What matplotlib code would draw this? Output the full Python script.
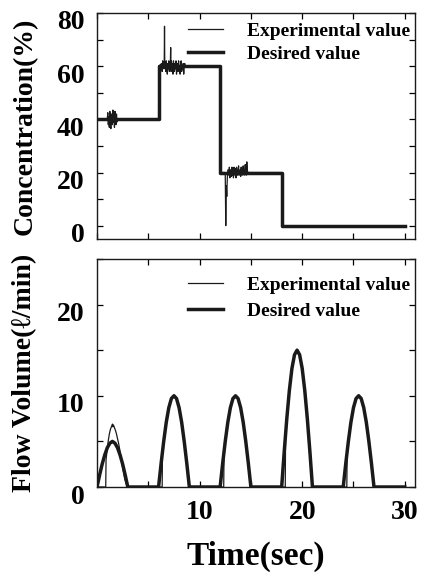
import matplotlib
matplotlib.use('Agg')
import matplotlib.pyplot as plt
from matplotlib.ticker import MultipleLocator
from matplotlib.transforms import ScaledTranslation

plt.rcParams['font.family'] = ['Liberation Serif', 'DejaVu Serif']
plt.rcParams['font.weight'] = 'bold'

# ---- Concentration (%) ----
conc_des_t = [0.0, 6.0, 6.0, 12.0, 12.0, 18.0, 18.0, 30.0]
conc_des_v = [40, 40, 60, 60, 20, 20, 0, 0]

conc_exp_t = [0.0, 1.00, 1.05, 1.10, 1.15, 1.20, 1.25, 1.30, 1.35, 1.40, 1.45, 1.50,
              1.55, 1.60, 1.65, 1.70, 1.75, 1.80, 1.85, 1.90, 1.95, 2.00,
              6.00, 6.02, 6.30, 6.35, 6.40, 6.45, 6.50, 6.55, 6.58, 6.60, 6.62,
              6.65, 6.70, 6.75, 6.80, 6.85, 6.90, 6.95, 7.00, 7.05, 7.10, 7.15,
              7.18, 7.20, 7.22, 7.25, 7.30, 7.35, 7.40, 7.45, 7.50, 7.55, 7.60,
              7.65, 7.70, 7.75, 7.80, 7.85, 7.90, 7.95, 8.00, 8.05, 8.10, 8.15,
              8.20, 8.25, 8.30, 8.35, 8.40, 8.45, 8.50, 8.55, 8.60,
              12.00, 12.02, 12.45, 12.50, 12.55, 12.60, 12.65, 12.70, 12.75,
              12.85, 12.90, 12.95, 13.00, 13.05, 13.10, 13.15, 13.20, 13.25,
              13.30, 13.35, 13.40, 13.45, 13.50, 13.55, 13.60, 13.65, 13.70,
              13.75, 13.80, 13.85, 13.90, 13.95, 14.00, 14.05, 14.10, 14.15,
              14.20, 14.25, 14.30, 14.35, 14.40, 14.45, 14.50, 14.55, 14.60,
              14.65, 14.70, 18.00, 18.02, 30.0]
conc_exp_v = [40, 40, 42.5, 38, 41, 37, 43, 39, 36.5, 42, 40, 38, 43.5, 39, 41,
              37, 43, 40, 38, 42, 39, 40,
              40, 60, 61, 58, 62, 59, 61, 60, 75, 62, 59, 61, 58, 62, 60, 57,
              61, 59, 62, 58, 60, 61, 67, 60, 58, 62, 59, 61, 57, 62, 60, 58,
              61, 59, 62, 57, 60, 61, 58, 62, 59, 60, 57, 61, 62, 58, 60, 59,
              61, 57, 60, 61, 60,
              60, 20, 20, 19, 0, 15, 11, 18, 21, 19, 22, 18, 21, 20, 18.5, 22,
              19, 21, 18, 22, 20, 19, 21.5, 18, 22, 20, 19, 21, 22.5, 19, 20,
              21, 18.5, 22, 20, 19, 21, 22.5, 20, 19, 21, 23, 20, 19, 24, 21,
              20, 20, 0, 0]

# ---- Flow volume (l/min) ----
flow_des_t = [0.0, 0.25, 0.5, 0.75, 1.0, 1.25, 1.5, 1.75, 2.0, 2.25, 2.5, 2.75, 3.0,
              6.0, 6.25, 6.5, 6.75, 7.0, 7.25, 7.5, 7.75, 8.0, 8.25, 8.5, 8.75, 9.0,
              12.0, 12.25, 12.5, 12.75, 13.0, 13.25, 13.5, 13.75, 14.0, 14.25, 14.5, 14.75, 15.0,
              18.0, 18.25, 18.5, 18.75, 19.0, 19.25, 19.5, 19.75, 20.0, 20.25, 20.5, 20.75, 21.0,
              24.0, 24.25, 24.5, 24.75, 25.0, 25.25, 25.5, 25.75, 26.0, 26.25, 26.5, 26.75, 27.0,
              30.0]
flow_des_v = [0, 1.3, 2.5, 3.5, 4.3, 4.8, 5.0, 4.8, 4.3, 3.5, 2.5, 1.3, 0,
              0, 2.6, 5.0, 7.1, 8.7, 9.7, 10.0, 9.7, 8.7, 7.1, 5.0, 2.6, 0,
              0, 2.6, 5.0, 7.1, 8.7, 9.7, 10.0, 9.7, 8.7, 7.1, 5.0, 2.6, 0,
              0, 3.9, 7.5, 10.6, 13.0, 14.5, 15.0, 14.5, 13.0, 10.6, 7.5, 3.9, 0,
              0, 2.6, 5.0, 7.1, 8.7, 9.7, 10.0, 9.7, 8.7, 7.1, 5.0, 2.6, 0,
              0]

flow_exp_t = [0.0, 0.85, 0.88, 1.0, 1.1, 1.2, 1.3, 1.4, 1.5, 1.55, 1.6, 1.7, 1.8,
              1.9, 2.0, 2.1, 2.2, 2.3, 2.4, 2.5, 2.6, 2.7, 2.8, 2.9, 3.05,
              6.35, 6.38, 6.5, 6.75, 7.0, 7.25, 7.5, 7.75, 8.0, 8.25, 8.5, 8.75, 9.0, 9.1,
              12.35, 12.38, 12.5, 12.75, 13.0, 13.25, 13.5, 13.75, 14.0, 14.25, 14.5, 14.75, 15.0, 15.1,
              18.35, 18.38, 18.5, 18.75, 19.0, 19.25, 19.5, 19.75, 20.0, 20.25, 20.5, 20.75, 21.0, 21.1,
              24.35, 24.38, 24.5, 24.75, 25.0, 25.25, 25.5, 25.75, 26.0, 26.25, 26.5, 26.75, 27.0, 27.1,
              30.0]
flow_exp_v = [0, 0, 3.0, 4.2, 5.1, 5.8, 6.3, 6.6, 6.9, 6.6, 6.8, 6.5, 6.2,
              5.8, 5.3, 4.8, 4.2, 3.5, 2.8, 2.1, 1.5, 0.9, 0.5, 0.2, 0,
              0, 3.8, 5.0, 7.0, 8.6, 9.6, 10.1, 9.8, 8.8, 7.2, 5.1, 2.7, 0.2, 0,
              0, 3.6, 4.9, 7.0, 8.7, 9.7, 10.0, 9.8, 8.8, 7.1, 5.0, 2.6, 0.2, 0,
              0, 5.6, 7.6, 10.5, 12.9, 14.4, 15.1, 14.6, 13.1, 10.7, 7.6, 4.0, 0.3, 0,
              0, 3.7, 5.0, 7.1, 8.6, 9.7, 10.1, 9.8, 8.7, 7.1, 5.0, 2.6, 0.2, 0,
              0]

ink = '#1a1a1a'
fig = plt.figure(figsize=(4.22, 5.72), dpi=100)
ax1 = fig.add_axes([0.2299, 0.5822, 0.7536, 0.3951])
ax2 = fig.add_axes([0.2299, 0.1486, 0.7536, 0.3986])

for ax in (ax1, ax2):
    ax.tick_params(which='both', direction='in', top=True, right=True,
                   length=4.5, width=0.9, labelsize=20, pad=9)
    for s in ax.spines.values():
        s.set_linewidth(1.0)
        s.set_color(ink)
    ax.set_xlim(0, 31)
    ax.xaxis.set_major_locator(MultipleLocator(5))

# top panel
ax1.plot(conc_exp_t, conc_exp_v, color=ink, lw=0.9, label='Experimental value')
ax1.plot(conc_des_t, conc_des_v, color=ink, lw=2.5, label='Desired value')
ax1.set_ylim(-5, 80)
ax1.yaxis.set_major_locator(MultipleLocator(20))
ax1.yaxis.set_minor_locator(MultipleLocator(10))
ax1.tick_params(axis='x', labelbottom=False)
ax1.set_ylabel('Concentration(%)', fontsize=20, fontweight='bold', labelpad=14)

# bottom panel
ax2.plot(flow_exp_t, flow_exp_v, color=ink, lw=0.9, label='Experimental value')
ax2.plot(flow_des_t, flow_des_v, color=ink, lw=2.5, label='Desired value')
ax2.set_ylim(0, 25)
ax2.yaxis.set_major_locator(MultipleLocator(10))
ax2.yaxis.set_minor_locator(MultipleLocator(5))
ax2.set_xticks([5, 10, 15, 20, 25, 30])
ax2.set_xticklabels(['', '10', '', '20', '', '30'])
ax2.set_ylabel('Flow Volume(\u2113/min)', fontsize=20, fontweight='bold', labelpad=14)
ax2.set_xlabel('Time(sec)', fontsize=24, fontweight='bold', labelpad=12)

# y tick labels sit a little below their ticks in the original
shift = ScaledTranslation(0, -7 / 100, fig.dpi_scale_trans)
for ax in (ax1, ax2):
    for lab in ax.get_yticklabels():
        lab.set_transform(lab.get_transform() + shift)
        lab.set_fontweight('bold')
    for lab in ax.get_xticklabels():
        lab.set_fontweight('bold')

ax1.legend(loc='upper left', bbox_to_anchor=(0.286, 0.96), frameon=False,
           handlelength=1.8, handletextpad=1.24, labelspacing=0.3,
           borderpad=0, borderaxespad=0, prop={'weight': 'bold', 'size': 14})
ax2.legend(loc='upper left', bbox_to_anchor=(0.286, 0.925), frameon=False,
           handlelength=1.8, handletextpad=1.24, labelspacing=0.45,
           borderpad=0, borderaxespad=0, prop={'weight': 'bold', 'size': 14})

fig.savefig('out.png', dpi=100, facecolor='white')
